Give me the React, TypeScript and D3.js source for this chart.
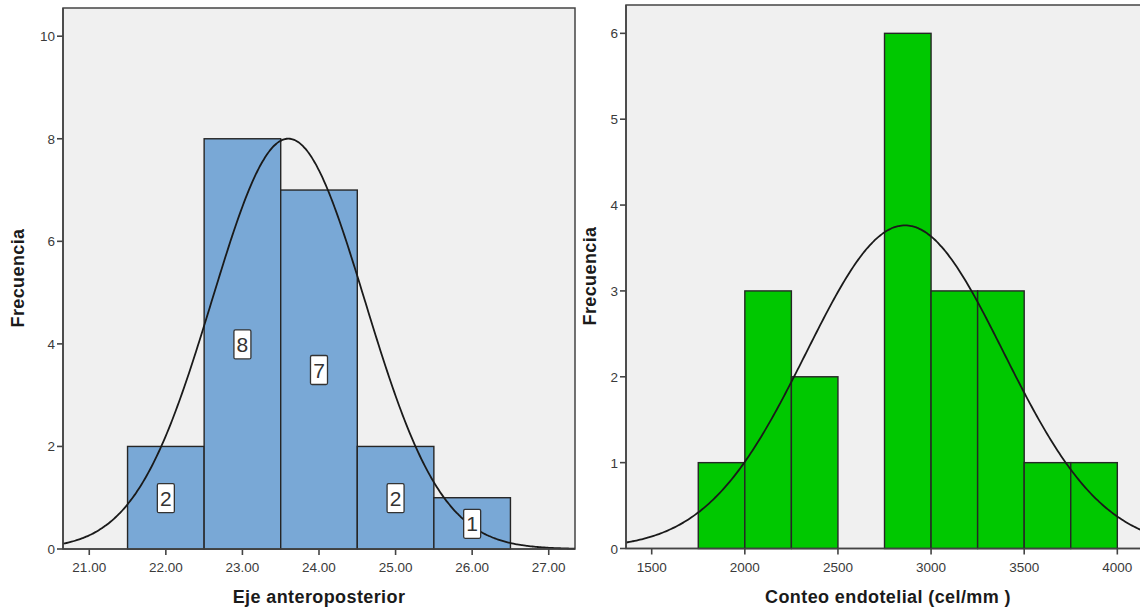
import React from "react";
import * as d3 from "d3";

// Left histogram: Eje anteroposterior
const leftBinEdges = [21.5, 22.5, 23.5, 24.5, 25.5, 26.5];
const leftCounts = [2, 8, 7, 2, 1];
const leftXTicks = [21, 22, 23, 24, 25, 26, 27];
const leftYTicks = [0, 2, 4, 6, 8, 10];
const leftMean = 23.6;
const leftSd = 0.997;
const leftN = 20;

// Right histogram: Conteo endotelial
const rightBinEdges = [1750, 2000, 2250, 2500, 2750, 3000, 3250, 3500, 3750, 4000];
const rightCounts = [1, 3, 2, 0, 6, 3, 3, 1, 1];
const rightXTicks = [1500, 2000, 2500, 3000, 3500, 4000];
const rightYTicks = [0, 1, 2, 3, 4, 5, 6];
const rightMean = 2860;
const rightSd = 530;
const rightN = 20;

const FONT = "Arial, 'Liberation Sans', sans-serif";

type PanelProps = {
  x0: number; x1: number; y0: number; y1: number;
  xDomain: [number, number]; yDomain: [number, number];
  edges: number[]; counts: number[];
  xTicks: number[]; yTicks: number[];
  tickFmt: (v: number) => string;
  mean: number; sd: number; n: number;
  fill: string;
  showLabels: boolean;
  xTitle: string; xTitleX: number;
  yTitleX: number; yTitleY: number;
};

function Panel(p: PanelProps) {
  const x = d3.scaleLinear().domain(p.xDomain).range([p.x0, p.x1]);
  const y = d3.scaleLinear().domain(p.yDomain).range([p.y1, p.y0]);
  const w = p.edges[1] - p.edges[0];
  const pts = d3.range(0, 301).map((i) => p.xDomain[0] + (i / 300) * (p.xDomain[1] - p.xDomain[0]));
  const dens = (v: number) => (p.n * w) / (p.sd * Math.sqrt(2 * Math.PI)) * Math.exp(-0.5 * ((v - p.mean) / p.sd) ** 2);
  const line = d3.line<number>().x((v) => x(v)).y((v) => y(dens(v))).curve(d3.curveBasis);
  const frame = "#444";
  return (
    <g>
      <rect x={p.x0} y={p.y0} width={p.x1 - p.x0} height={p.y1 - p.y0} fill="#f0f0f0" stroke={frame} strokeWidth={1.5} />
      {p.counts.map((c, i) =>
        c > 0 ? (
          <rect key={i} x={x(p.edges[i])} y={y(c)} width={x(p.edges[i + 1]) - x(p.edges[i])} height={y(0) - y(c)}
            fill={p.fill} stroke="#262626" strokeWidth={1.4} />
        ) : null
      )}
      <path d={line(pts) || ""} fill="none" stroke="#1a1a1a" strokeWidth={1.8} />
      {p.showLabels && p.counts.map((c, i) => {
        const cx = (x(p.edges[i]) + x(p.edges[i + 1])) / 2;
        const cy = y(c / 2);
        return (
          <g key={"l" + i}>
            <rect x={cx - 8.5} y={cy - 14} width={17} height={29} rx={1.5} fill="#ffffff" stroke="#333" strokeWidth={1.3} />
            <text x={cx} y={cy + 8} textAnchor="middle" fontFamily={FONT} fontSize={21} fill="#333" fontWeight={300}>{c}</text>
          </g>
        );
      })}
      <line x1={p.x0} x2={p.x0} y1={p.y0} y2={p.y1} stroke={frame} strokeWidth={1.6} />
      <line x1={p.x0} x2={p.x1} y1={p.y1} y2={p.y1} stroke={frame} strokeWidth={1.6} />
      {p.yTicks.map((t) => (
        <g key={"y" + t}>
          <line x1={p.x0 - 6} x2={p.x0} y1={y(t)} y2={y(t)} stroke={frame} strokeWidth={1.6} />
          <text x={p.x0 - 8} y={y(t) + 5} textAnchor="end" fontFamily={FONT} fontSize={13.5} fill="#3a3a3a">{t}</text>
        </g>
      ))}
      {p.xTicks.map((t) => (
        <g key={"x" + t}>
          <line x1={x(t)} x2={x(t)} y1={p.y1} y2={p.y1 + 6} stroke={frame} strokeWidth={1.6} />
          <text x={x(t)} y={p.y1 + 23} textAnchor="middle" fontFamily={FONT} fontSize={13.5} fill="#3a3a3a">{p.tickFmt(t)}</text>
        </g>
      ))}
      <text x={p.xTitleX} y={603} textAnchor="middle" fontFamily={FONT} fontSize={18} fontWeight="bold" fill="#1a1a1a" letterSpacing={0.4}>{p.xTitle}</text>
      <text transform={`translate(${p.yTitleX},${p.yTitleY}) rotate(-90)`} textAnchor="middle" fontFamily={FONT} fontSize={18} fontWeight="bold" fill="#1a1a1a" letterSpacing={0.4}>Frecuencia</text>
    </g>
  );
}

export default function App() {
  return (
    <svg width={1140} height={609} style={{ position: "absolute", left: 0, top: 0, background: "#fff" }}>
      <rect width={1140} height={609} fill="#fff" />
      <Panel x0={63} x1={575} y0={8} y1={549} xDomain={[20.657, 27.343]} yDomain={[0, 10.55]}
        edges={leftBinEdges} counts={leftCounts} xTicks={leftXTicks} yTicks={leftYTicks}
        tickFmt={(v) => v.toFixed(2)} mean={leftMean} sd={leftSd} n={leftN} fill="#79a8d6" showLabels={true}
        xTitle="Eje anteroposterior" xTitleX={319} yTitleX={24} yTitleY={278} />
      <Panel x0={626} x1={1146} y0={5} y1={548.5} xDomain={[1362, 4154]} yDomain={[0, 6.33]}
        edges={rightBinEdges} counts={rightCounts} xTicks={rightXTicks} yTicks={rightYTicks}
        tickFmt={(v) => String(v)} mean={rightMean} sd={rightSd} n={rightN} fill="#00c800" showLabels={false}
        xTitle="Conteo endotelial (cel/mm  )" xTitleX={888} yTitleX={596} yTitleY={276} />
    </svg>
  );
}
